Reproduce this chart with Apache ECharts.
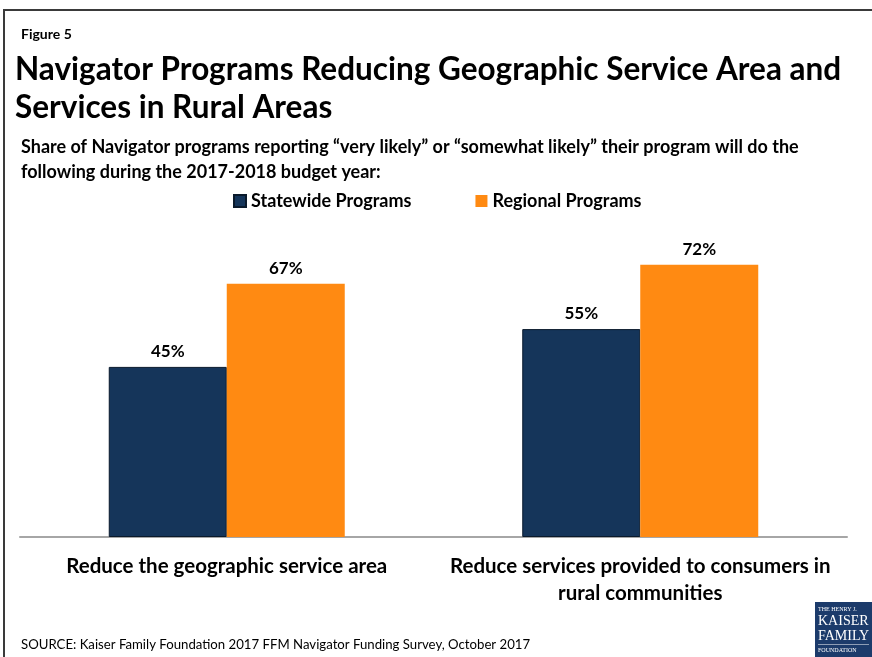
<!DOCTYPE html>
<html>
<head>
<meta charset="utf-8">
<script src="https://cdn.jsdelivr.net/npm/echarts@6/dist/echarts.min.js"></script>
<style>
html,body{margin:0;padding:0;background:#fff;}
#c{width:872px;height:657px;}
</style>
</head>
<body>
<div id="c"></div>
<script>
const categories = ['Reduce the geographic service area', 'Reduce services provided to consumers in\nrural communities'];
const seriesNames = ['Statewide Programs', 'Regional Programs'];
const statewide = [45, 55];
const regional = [67, 72];
const colors = ['#15355A', '#FF8A12'];

const FONT = 'Lato, "Open Sans", sans-serif';
const chart = echarts.init(document.getElementById('c'), null, {renderer: 'canvas'});
chart.setOption({
  animation: false,
  backgroundColor: '#fff',
  textStyle: {fontFamily: FONT},
  title: [
    {text: 'Figure 5', left: 16, top: 22, textStyle: {fontFamily: FONT, fontSize: 14, fontWeight: 'bold', color: '#000'}},
    {text: 'Navigator Programs Reducing Geographic Service Area and\nServices in Rural Areas', left: 10, top: 46,
     textStyle: {fontFamily: FONT, fontSize: 31.5, fontWeight: 'bold', color: '#000', lineHeight: 38}},
    {text: 'Share of Navigator programs reporting \u201cvery likely\u201d or \u201csomewhat likely\u201d their program will do the\nfollowing during the 2017-2018 budget year:', left: 16, top: 130,
     textStyle: {fontFamily: FONT, fontSize: 18, fontWeight: 'bold', color: '#000', lineHeight: 25}},
    {text: 'SOURCE: Kaiser Family Foundation 2017 FFM Navigator Funding Survey, October 2017', left: 16, top: 633,
     textStyle: {fontFamily: FONT, fontSize: 13.2, fontWeight: 'normal', color: '#000'}}
  ],
  legend: {
    data: seriesNames,
    top: 187,
    left: 228,
    icon: 'rect',
    itemWidth: 12,
    itemHeight: 12,
    itemGap: 64,
    textStyle: {fontFamily: FONT, fontSize: 18, fontWeight: 'bold', color: '#000'}
  },
  grid: {left: 20, right: 25, top: 159, bottom: 120, containLabel: false},
  xAxis: {
    type: 'category',
    data: categories,
    axisLine: {lineStyle: {color: '#A6A6A6', width: 2}},
    axisTick: {show: false},
    axisLabel: {fontFamily: FONT, fontSize: 20.5, fontWeight: 'bold', color: '#000', margin: 16, lineHeight: 27, interval: 0}
  },
  yAxis: {type: 'value', min: 0, max: 100, show: false, splitLine: {show: false}},
  series: [
    {name: seriesNames[0], type: 'bar', data: statewide, barWidth: 118, barGap: '0%',
     itemStyle: {color: colors[0], borderColor: '#0a1a2c', borderWidth: 1},
     label: {show: true, position: 'top', distance: 7, formatter: '{c}%', fontFamily: FONT, fontSize: 17, fontWeight: 'bold', color: '#000'}},
    {name: seriesNames[1], type: 'bar', data: regional, barWidth: 118, barGap: '0%',
     itemStyle: {color: colors[1]},
     label: {show: true, position: 'top', distance: 7, formatter: '{c}%', fontFamily: FONT, fontSize: 17, fontWeight: 'bold', color: '#000'}}
  ],
  graphic: [
    {type: 'polyline', shape: {points: [[4, 657], [4, 10], [872, 10]]}, style: {stroke: '#3a3a3a', lineWidth: 2, fill: null}},
    {type: 'rect', shape: {x: 815, y: 602, width: 57, height: 55}, style: {fill: '#1C3B6B'}},
    {type: 'text', left: 818, top: 606, style: {text: 'THE HENRY J.', fill: '#fff', font: '6px "Liberation Serif", serif'}},
    {type: 'text', left: 818, top: 614, style: {text: 'KAISER', fill: '#fff', font: '14px "Liberation Serif", serif'}},
    {type: 'text', left: 818, top: 629, style: {text: 'FAMILY', fill: '#fff', font: '14px "Liberation Serif", serif'}},
    {type: 'rect', shape: {x: 818, y: 644, width: 51, height: 0.6}, style: {fill: '#fff'}},
    {type: 'text', left: 818, top: 647, style: {text: 'FOUNDATION', fill: '#fff', font: '6px "Liberation Serif", serif'}}
  ]
});
</script>
</body>
</html>
